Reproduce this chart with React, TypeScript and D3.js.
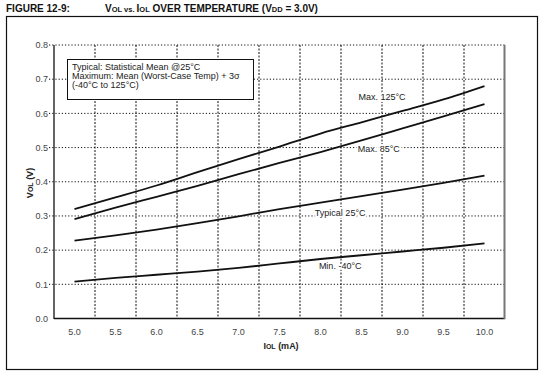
import * as d3 from "d3";

const W = 540;
const H = 374;

// IOL (mA)
const iol = [5.0, 5.5, 6.0, 6.5, 7.0, 7.5, 8.0, 8.5, 9.0, 9.5, 10.0];

// VOL (V) per curve
const max125 = [0.32, 0.354, 0.389, 0.428, 0.466, 0.503, 0.541, 0.574, 0.607, 0.641, 0.68];
const max85 = [0.291, 0.324, 0.356, 0.388, 0.422, 0.455, 0.487, 0.521, 0.556, 0.591, 0.627];
const typical25 = [0.228, 0.243, 0.26, 0.279, 0.299, 0.32, 0.339, 0.358, 0.377, 0.397, 0.418];
const min40 = [0.108, 0.119, 0.128, 0.137, 0.148, 0.161, 0.174, 0.185, 0.196, 0.207, 0.22];

const curveNames = ["Max. 125°C", "Max. 85°C", "Typical 25°C", "Min. -40°C"];
const curveValues = [max125, max85, typical25, min40];
// where each label sits, in data units
const labelAt = [
  [8.75, 0.648],
  [8.71, 0.496],
  [8.24, 0.308],
  [8.24, 0.154],
];

const yTicks = [0.0, 0.1, 0.2, 0.3, 0.4, 0.5, 0.6, 0.7, 0.8];
const xGrid = [5.25, 5.75, 6.25, 6.75, 7.25, 7.75, 8.25, 8.75, 9.25, 9.75];

const legendLines = [
  "Typical: Statistical Mean @25°C",
  "Maximum: Mean (Worst-Case Temp) + 3σ",
  "(-40°C to 125°C)",
];

const FONT = "Arial, 'Liberation Sans', sans-serif";

export default function App() {
  const x = d3.scaleLinear().domain([4.75, 10.25]).range([54, 505]);
  const y = d3.scaleLinear().domain([0, 0.8]).range([318.5, 45]);

  const line = d3
    .line<number>()
    .x((_, i) => x(iol[i]))
    .y((d) => y(d))
    .curve(d3.curveMonotoneX);

  return (
    <svg
      width={W}
      height={H}
      style={{ position: "absolute", left: 0, top: 0, background: "#fff" }}
      fontFamily={FONT}
    >
      {/* title */}
      <text x={6} y={12} fontSize={10} fontWeight="bold" fill="#111">
        FIGURE 12-9:
      </text>
      <text x={105} y={12} fontSize={10} fontWeight="bold" fill="#111">
        V<tspan fontSize={7.5}>OL</tspan>
        <tspan fontSize={7.5}> vs. </tspan>I<tspan fontSize={7.5}>OL</tspan> OVER TEMPERATURE (V
        <tspan fontSize={7.5}>DD</tspan> = 3.0V)
      </text>

      {/* outer frame */}
      <rect x={6.5} y={16.5} width={531} height={353} fill="none" stroke="#111" strokeWidth={1.2} />

      {/* horizontal grid */}
      {yTicks.map((t) => (
        <g key={t}>
          {t > 0 && (
            <line
              x1={49}
              x2={505}
              y1={y(t)}
              y2={y(t)}
              stroke="#111"
              strokeWidth={1}
              strokeDasharray="1.2,2"
            />
          )}
          <text x={48} y={y(t) + 3.2} textAnchor="end" fontSize={9} fill="#444">
            {t.toFixed(1)}
          </text>
        </g>
      ))}

      {/* vertical grid */}
      {xGrid.map((g) => (
        <line
          key={g}
          x1={x(g)}
          x2={x(g)}
          y1={45}
          y2={318.5}
          stroke="#111"
          strokeWidth={1}
          strokeDasharray="2,1.5"
        />
      ))}

      {/* plot borders */}
      <line x1={54} x2={54} y1={45} y2={319} stroke="#111" strokeWidth={1.3} />
      <line x1={54} x2={505} y1={318.5} y2={318.5} stroke="#111" strokeWidth={1.3} />
      <line x1={504.5} x2={504.5} y1={45} y2={319} stroke="#777" strokeWidth={2} />

      {/* x tick labels */}
      {iol.map((v) => (
        <text key={v} x={x(v)} y={334.5} textAnchor="middle" fontSize={9} fill="#444">
          {v.toFixed(1)}
        </text>
      ))}

      {/* axis titles */}
      <text x={281} y={349} textAnchor="middle" fontSize={9} fontWeight="bold" fill="#222">
        I<tspan fontSize={7}>OL</tspan> (mA)
      </text>
      <text
        transform="translate(33,183) rotate(-90)"
        textAnchor="middle"
        fontSize={9}
        fontWeight="bold"
        fill="#222"
      >
        V<tspan fontSize={7}>OL</tspan> (V)
      </text>

      {/* curves */}
      {curveValues.map((vals, i) => (
        <path key={i} d={line(vals) ?? ""} fill="none" stroke="#111" strokeWidth={1.8} />
      ))}

      {/* curve labels */}
      {curveNames.map((name, i) => (
        <text
          key={name}
          x={x(labelAt[i][0])}
          y={y(labelAt[i][1]) + 3}
          textAnchor="middle"
          fontSize={9}
          fill="#222"
          stroke="#fff"
          strokeWidth={4}
          paintOrder="stroke"
        >
          {name}
        </text>
      ))}

      {/* legend box */}
      <rect x={67.5} y={59.5} width={186} height={40} fill="#fff" stroke="#111" strokeWidth={1} />
      {legendLines.map((l, i) => (
        <text key={i} x={72} y={69.5 + i * 9} fontSize={9} fill="#222">
          {l}
        </text>
      ))}
    </svg>
  );
}
